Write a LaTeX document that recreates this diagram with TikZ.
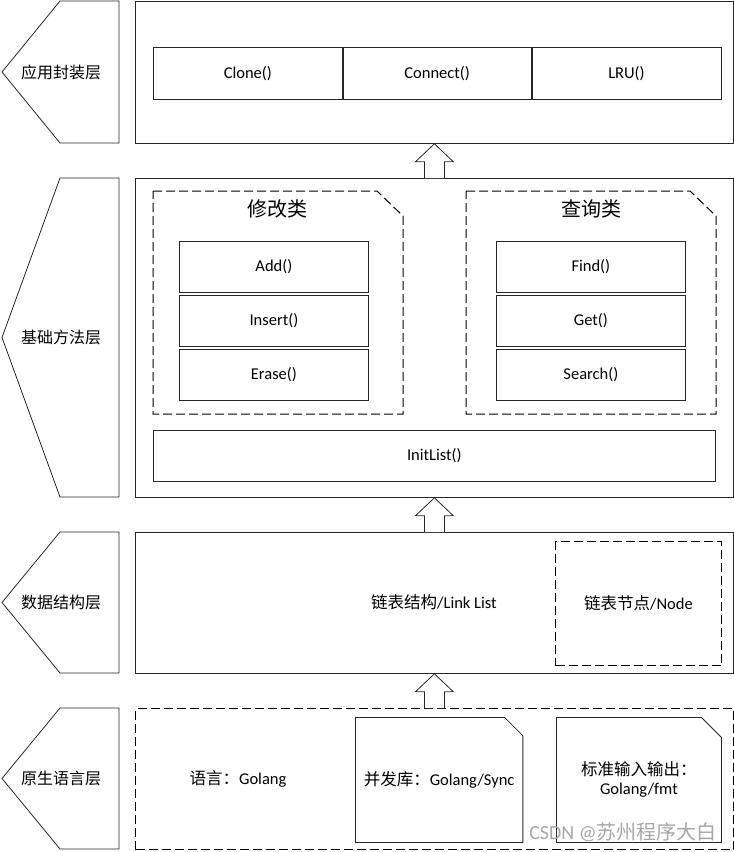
\documentclass[tikz,border=0pt]{standalone}
\usepackage{fontspec}
\setmainfont{Carlito}
\newfontfamily\cjk{Noto Sans CJK SC}
\usetikzlibrary{calc, positioning, shapes.misc}

\tikzset{
  layerbox/.style={draw=black!85, line width=.8pt, anchor=north west, inner sep=0pt, minimum width=598},
  tagline/.style={draw=black!85, line width=.8pt},
  tagtext/.style={font=\cjk\fontsize{16}{19}\selectfont},
  funcbox/.style={draw=black!85, line width=.8pt, anchor=north west, minimum width=189, minimum height=51, inner sep=0pt},
  groupline/.style={draw=black, line width=1pt, dash pattern=on 9pt off 4pt},
  grouptitle/.style={font=\cjk\fontsize{20}{24}\selectfont},
  libbox/.style={draw=black!85, line width=.8pt, anchor=north west, chamfered rectangle, chamfered rectangle corners=north east, chamfered rectangle xsep=10pt, chamfered rectangle ysep=10pt, minimum width=165, minimum height=125, inner sep=0pt, align=center},
  hollow/.style={draw=black!85, line width=.8pt, fill=white, line join=miter},
  watermark/.style={text=black!35, font=\fontsize{20}{23}\selectfont}
}

\begin{document}
\begin{tikzpicture}[x=1pt, y=-1pt, font=\fontsize{16.5}{19}\selectfont]
\useasboundingbox (0,0) rectangle (734,852);

% layer tags
\draw [tagline] (119,1) -- (60,1) -- (2,72) -- (60,143) -- (119,143) -- cycle;
\draw [tagline] (119,178) -- (60,178) -- (2,337.5) -- (60,497) -- (119,497) -- cycle;
\draw [tagline] (119,532) -- (60,532) -- (2,602.5) -- (60,673) -- (119,673) -- cycle;
\draw [tagline] (119,708) -- (60,708) -- (2,778.5) -- (60,849) -- (119,849) -- cycle;
\node [tagtext] (tagapp) at (61,72) {应用封装层};
\node [tagtext] (tagbase) at (61,337.5) {基础方法层};
\node [tagtext] (tagdata) at (61,602.5) {数据结构层};
\node [tagtext] (taglang) at (61,778.5) {原生语言层};

% layers
\node [layerbox, minimum height=142] (app) at (135,1) {};
\node [layerbox, minimum height=319] (base) at (135,178) {};
\node [layerbox, minimum height=141] (data) at (135,532) {};
\node [layerbox, minimum height=141, draw=black, line width=1pt, dash pattern=on 9pt off 4pt] (lang) at (135,708) {};

% application layer
\node [funcbox, minimum height=52] (clone) at (153,47) {Clone()};
\node [funcbox, minimum height=52, minimum width=188, right=0pt of clone] (connect) {Connect()};
\node [funcbox, minimum height=52, right=0pt of connect] (lru) {LRU()};

% basic methods
\draw [groupline] (153,191) -- (377,191) -- (403,216) -- (403,414) -- (153,414) -- cycle;
\draw [groupline] (466,191) -- (690,191) -- (716,216) -- (716,414) -- (466,414) -- cycle;
\node [grouptitle] (modify) at (277,209) {修改类};
\node [grouptitle] (query) at (591,209) {查询类};
\node [funcbox] (add) at (179,241) {Add()};
\node [funcbox, below=2pt of add] (insert) {Insert()};
\node [funcbox, below=2pt of insert] (erase) {Erase()};
\node [funcbox] (find) at (496,241) {Find()};
\node [funcbox, below=2pt of find] (get) {Get()};
\node [funcbox, below=2pt of get] (search) {Search()};
\node [funcbox, minimum width=562, minimum height=51] (init) at (153,430) {InitList()};

% data structure
\node (list) at (434,602.5) {{\cjk 链表结构}/Link List};
\node [draw=black, line width=1pt, dash pattern=on 9pt off 4pt, anchor=north west, minimum width=166, minimum height=124, inner sep=0pt] (node) at (555,541) {{\cjk 链表节点}/Node};

% native language
\node (golang) at (238,779) {{\cjk 语言：}Golang};
\node [libbox] (sync) at (355,717) {{\cjk 并发库：}Golang/Sync};
\node [libbox] (fmt) at (556,717) {{\cjk 标准输入输出：}\\Golang/fmt};

% arrows between layers
\draw [hollow] ($(lang.north)+(-10,0)$) -- ($(data.south)+(-10,18)$) -- ($(data.south)+(-19,18)$) -- (data.south) -- ($(data.south)+(19,18)$) -- ($(data.south)+(10,18)$) -- ($(lang.north)+(10,0)$);
\draw [hollow] ($(data.north)+(-10,0)$) -- ($(base.south)+(-10,18)$) -- ($(base.south)+(-19,18)$) -- (base.south) -- ($(base.south)+(19,18)$) -- ($(base.south)+(10,18)$) -- ($(data.north)+(10,0)$);
\draw [hollow] ($(base.north)+(-10,0)$) -- ($(app.south)+(-10,18)$) -- ($(app.south)+(-19,18)$) -- (app.south) -- ($(app.south)+(19,18)$) -- ($(app.south)+(10,18)$) -- ($(base.north)+(10,0)$);

\node [watermark] (csdn) at (623,832) {CSDN @{\cjk 苏州程序大白}};
\end{tikzpicture}
\end{document}
